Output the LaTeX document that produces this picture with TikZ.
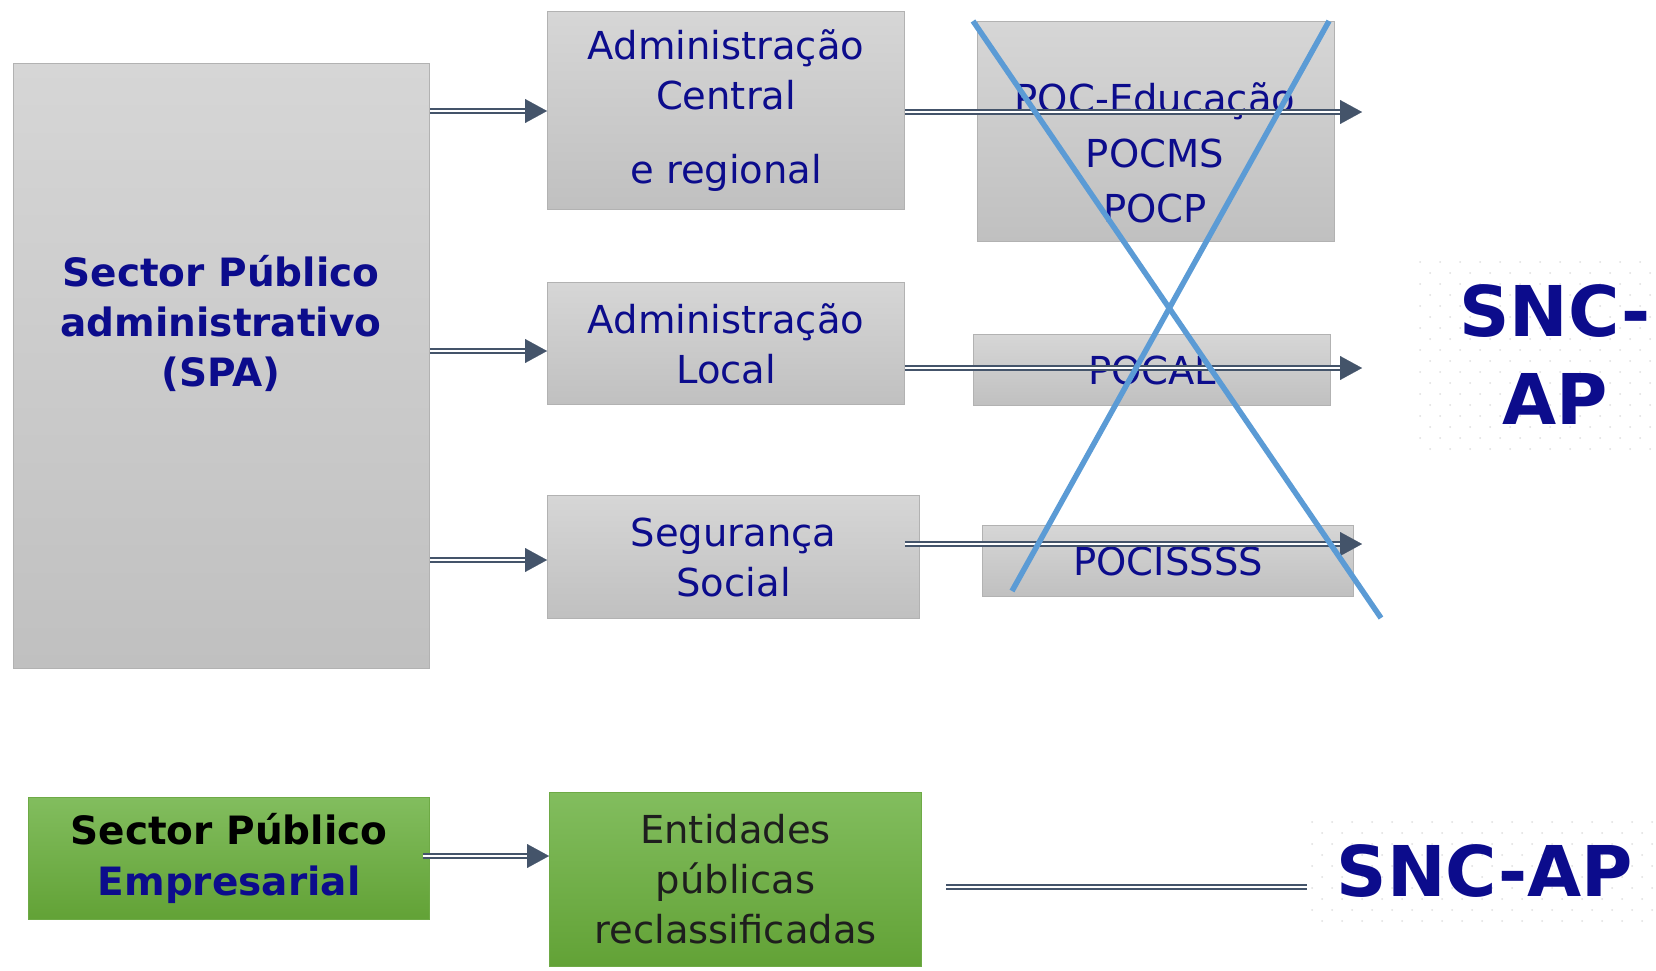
\documentclass[tikz,border=0pt]{standalone}
\usepackage{fontspec}
\setmainfont{DejaVu Sans}
\usetikzlibrary{arrows.meta,calc}
\definecolor{navy}{RGB}{12,12,140}
\definecolor{slate}{RGB}{68,84,106}
\definecolor{xblue}{RGB}{91,155,213}
\definecolor{gtop}{RGB}{214,214,214}
\definecolor{gbot}{RGB}{192,192,192}
\definecolor{gedge}{RGB}{178,178,178}
\definecolor{grtop}{RGB}{130,189,94}
\definecolor{grbot}{RGB}{98,162,54}
\definecolor{gredge}{RGB}{110,170,70}
\definecolor{dotc}{RGB}{222,222,222}
\definecolor{darktext}{RGB}{30,30,30}
\tikzset{
 graybox/.style={draw=gedge, line width=1.2pt, top color=gtop, bottom color=gbot, anchor=north west, inner sep=0pt, align=center, font=\fontsize{38.5}{50}\selectfont, text=navy},
 greenbox/.style={draw=gredge, line width=1.2pt, top color=grtop, bottom color=grbot, anchor=north west, inner sep=0pt, align=center},
 boxtext/.style={align=center, inner sep=0pt, text=navy},
 dline/.style={draw=slate, double=white, double distance=2pt, line width=1.8pt},
 arrtip/.style={draw=slate, fill=slate, line width=0.1pt, -{Triangle[length=22pt,width=24pt]}},
 xline/.style={draw=xblue, line width=5.5pt},
 snc/.style={text=navy, font=\fontsize{70}{88}\selectfont\bfseries, align=center, inner sep=0pt},
}
\newcommand\dblarrow[2]{\draw[dline] (#1) -- ($(#2)+(-20,0)$); \draw[arrtip] ($(#2)+(-22,0)$) -- (#2);}
\begin{document}
\begin{tikzpicture}[x=1pt,y=-1pt]
\useasboundingbox (0,0) rectangle (1656,970);
% dotted backgrounds
\foreach \i in {0,...,11} {\foreach \j in {0,2,...,16} {\fill[dotc] ({1420+\i*20},{262+\j*11}) circle (1pt);}}
\foreach \i in {0,...,11} {\foreach \j in {1,3,...,17} {\fill[dotc] ({1430+\i*20},{262+\j*11}) circle (1pt);}}
\foreach \i in {0,...,17} {\foreach \j in {0,2,...,8} {\fill[dotc] ({1312+\i*20},{822+\j*11}) circle (1pt);}}
\foreach \i in {0,...,16} {\foreach \j in {1,3,...,9} {\fill[dotc] ({1322+\i*20},{822+\j*11}) circle (1pt);}}
% boxes
\node[graybox, minimum width=416, minimum height=605] (spa) at (13,63) {};
\node[boxtext, font=\fontsize{39}{50}\selectfont\bfseries] (spat) at (221,323) {Sector Público\\administrativo\\(SPA)};
\node[graybox, minimum width=357, minimum height=198] (ac) at (547,11) {Administração\\Central\\[24pt]e regional};
\node[graybox, minimum width=357, minimum height=122] (al) at (547,282) {Administração\\Local};
\node[graybox, minimum width=372, minimum height=123] (ss) at (547,495) {Segurança\\Social};
\node[graybox, minimum width=357, minimum height=220] (poc) at (977,21) {};
\node[boxtext, font=\fontsize{38.5}{55}\selectfont] (poct) at (1155,153) {POC-Educação\\POCMS\\POCP};
\node[graybox, minimum width=357, minimum height=71] (pocal) at (973,334) {POCAL};
\node[graybox, minimum width=371, minimum height=71] (pocis) at (982,525) {POCISSSS};
\node[greenbox, minimum width=401, minimum height=122, font=\fontsize{39}{51}\selectfont\bfseries] (spe) at (28,797) {\textcolor{black}{Sector Público}\\\textcolor{navy}{Empresarial}};
\node[greenbox, minimum width=372, minimum height=174, font=\fontsize{38.5}{50}\selectfont, text=darktext] (ent) at (549,792) {Entidades\\públicas\\reclassificadas};
% SNC-AP labels
\node[snc] (snc1) at (1555,355) {SNC-\\AP};
\node[snc] (snc2) at (1485,871) {SNC-AP};
% arrow levels
\coordinate (y1) at (0,111);
\coordinate (y2) at (0,351);
\coordinate (y3) at (0,560);
\coordinate (e1) at (1362,112);
\coordinate (e2) at (1362,368);
\coordinate (e3) at (1362,544);
\coordinate (ys) at (0,856);
\dblarrow{spa.east |- y1}{ac.west |- y1}
\dblarrow{spa.east |- y2}{al.west |- y2}
\dblarrow{spa.east |- y3}{ss.west |- y3}
\dblarrow{ac.east |- e1}{e1}
\dblarrow{al.east |- e2}{e2}
\dblarrow{ac.east |- e3}{e3}
\dblarrow{$(spe.east |- ys)+(-7,0)$}{ent.west |- ys}
\coordinate (le) at (1307,887);
\draw[dline] ($(ent.east |- le)+(24,0)$) -- (le);
% cross
\coordinate (x1a) at (973,21);
\coordinate (x1b) at (1381,618);
\coordinate (x2a) at (1329,21);
\coordinate (x2b) at (1012,591);
\draw[xline] (x1a) -- (x1b);
\draw[xline] (x2a) -- (x2b);
\end{tikzpicture}
\end{document}
